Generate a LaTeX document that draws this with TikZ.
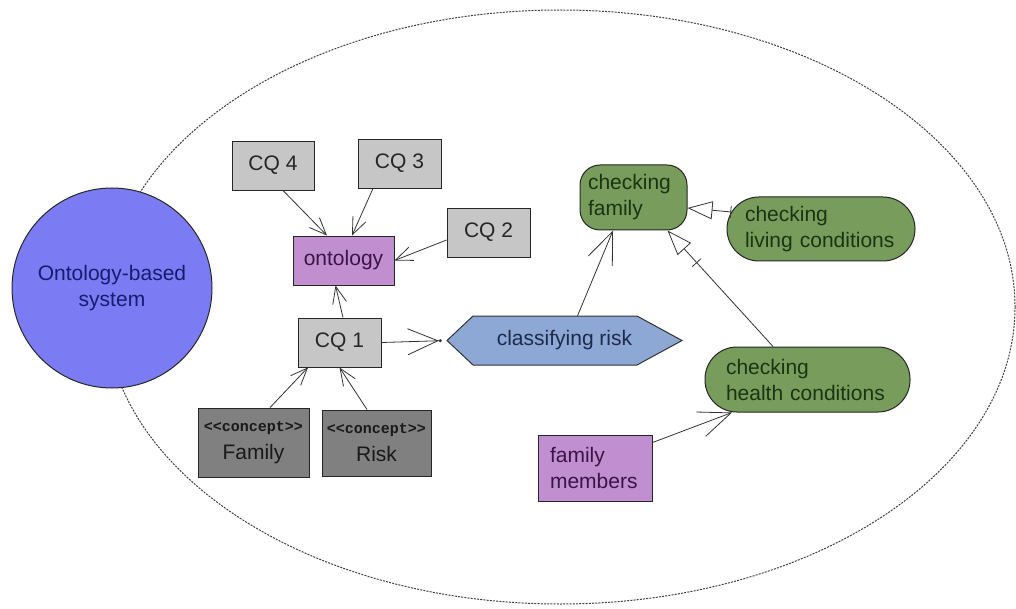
\documentclass[tikz,border=0pt]{standalone}
\usepackage{fontspec}
\setmainfont{Liberation Sans}
\newfontfamily\conceptfont{Liberation Mono}
\usetikzlibrary{arrows.meta,calc}
\definecolor{sysblue}{RGB}{123,124,244}
\definecolor{systext}{RGB}{26,26,110}
\definecolor{cqgray}{RGB}{198,198,198}
\definecolor{conceptgray}{RGB}{128,128,128}
\definecolor{lilac}{RGB}{193,143,208}
\definecolor{lilactext}{RGB}{59,20,70}
\definecolor{hexblue}{RGB}{142,168,214}
\definecolor{hextext}{RGB}{29,43,74}
\definecolor{actgreen}{RGB}{119,156,92}
\definecolor{greentext}{RGB}{27,53,18}
\begin{document}
\begin{tikzpicture}[x=1pt,y=-1pt,
  every node/.style={font=\fontsize{21}{26}\selectfont},
  box/.style={draw=black!85, line width=0.9pt, inner sep=0pt, minimum height=49pt},
  cq/.style={box, fill=cqgray, text=black!85, minimum width=83pt},
  concept/.style={box, fill=conceptgray, text=black!90, align=center},
  lilacbox/.style={box, fill=lilac, text=lilactext},
  act/.style={draw=black!85, line width=1pt, fill=actgreen, text=greentext, align=left, minimum height=65pt},
  conn/.style={draw=black!80, line width=0.8pt},
  sarr/.style={conn, -{Straight Barb[length=17pt,width=14pt]}},
  larr/.style={conn, -{Straight Barb[length=32pt,width=26pt]}},
  garr/.style={conn, -{Bar[width=12pt,sep=18pt] Triangle[open,length=25pt,width=18pt]}}
]
\useasboundingbox (0,0) rectangle (1016,609);
% system boundary
\draw[black!75, line width=1pt, dash pattern=on 2pt off 1.2pt] (560,307) ellipse [x radius=455, y radius=297];
% actor circle
\node[circle, draw=black!85, line width=1pt, fill=sysblue, text=systext, minimum size=200pt, align=center, inner sep=0pt]
  (sys) at (112,288) {Ontology-based\\system};
% CQ boxes
\node[cq, minimum width=82pt] (cq4) at (273,165.5) {CQ 4};
\node[cq] (cq3) at (399.5,163.5) {CQ 3};
\node[cq] (cq2) at (488.5,232.5) {CQ 2};
\node[lilacbox, minimum width=101pt] (onto) at (343.5,260.5) {ontology};
\node[cq] (cq1) at (339.5,342.5) {CQ 1};
\node[concept, minimum width=111pt, minimum height=69pt] (famc) at (253.5,442.5)
  {{\conceptfont\bfseries\fontsize{15}{17}\selectfont <<concept>>}\\[2pt]Family};
\node[concept, minimum width=109pt, minimum height=66pt] (riskc) at (376.5,443)
  {{\conceptfont\bfseries\fontsize{15}{17}\selectfont <<concept>>}\\[2pt]Risk};
% hexagon
\filldraw[fill=hexblue, draw=black!80, line width=1pt]
  (447,340.5) -- (473,316) -- (637,316) -- (682,340.5) -- (637,365) -- (473,365) -- cycle;
\node[minimum width=235pt, minimum height=49pt, inner sep=0pt, text=hextext] (cr) at (564.5,340.5) {classifying risk};
% activities
\node[act, rounded corners=20pt, minimum width=107pt, text width=91pt, inner xsep=8pt] (cf) at (633.5,197.5) {checking\\family};
\node[act, rounded corners=32pt, minimum width=188pt, minimum height=64pt, text width=152pt, inner xsep=18pt] (lc) at (821,229) {checking\\living conditions};
\node[act, rounded corners=32pt, minimum width=205pt, text width=163pt, inner xsep=21pt] (hc) at (807.5,379.5) {checking\\health conditions};
\node[lilacbox, minimum width=114pt, minimum height=66pt, text width=90pt, inner xsep=12pt, align=left] (fm) at (595,468) {family\\members};
% connectors
\draw[sarr] ([xshift=10pt]cq4.south) -- ([xshift=-16.5pt]onto.north);
\draw[sarr] ([xshift=-26.5pt]cq3.south) -- ([xshift=8.5pt]onto.north);
\draw[sarr] ([yshift=-7.5pt]cq2.west) -- (onto.east);
\draw[sarr] ([xshift=3.5pt]cq1.north) -- ([xshift=-8pt]onto.south);
\draw[sarr] ([xshift=16.5pt]famc.north) -- ([xshift=-31.5pt]cq1.south);
\draw[sarr] ([xshift=-9.5pt]riskc.north) -- (cq1.south);
\draw[conn, -{Straight Barb[length=30pt,width=26pt] Circle[length=3pt]}, shorten >=5pt] (cq1.east) -- (cr.west);
\draw[larr] ([xshift=13pt]cr.north) -- ([xshift=-20.5pt]cf.south);
\draw[garr] ([xshift=5pt,yshift=17pt]lc.west) -- ([yshift=-10.5pt]cf.east);
\draw[garr] ([xshift=-34.5pt]hc.north) -- ([xshift=-20pt]cf.south east);
\draw[larr] ([yshift=-8pt]fm.north east) -- ([xshift=-75.5pt]hc.south);
\end{tikzpicture}
\end{document}
